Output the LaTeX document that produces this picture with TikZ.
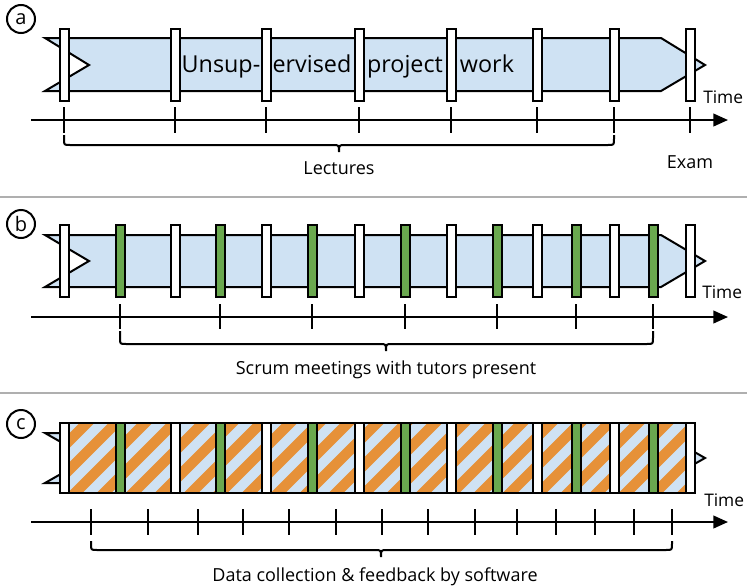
\documentclass[tikz,border=0pt]{standalone}
\usepackage{fontspec}
\setmainfont{Open Sans}
\usetikzlibrary{arrows.meta}
\definecolor{bandblue}{RGB}{207,226,243}
\definecolor{bargreen}{RGB}{106,168,79}
\definecolor{stripeor}{RGB}{230,145,56}
\definecolor{sepgray}{RGB}{175,175,175}
\tikzset{
  band/.style={draw=black, fill=bandblue, line width=1.5pt, line join=miter},
  wbar/.style={draw=black, fill=white, line width=1.5pt},
  gbar/.style={draw=black, fill=bargreen, line width=1.5pt},
  axis/.style={line width=1.5pt, -{Triangle[length=11pt, width=9.5pt]}},
  tickmark/.style={line width=1.5pt},
  bracepath/.style={line width=1.5pt},
  sep/.style={draw=sepgray, line width=2.2pt},
  lbl/.style={font=\fontsize{13.5}{16}\selectfont, inner sep=0pt, anchor=base},
  bandtext/.style={font=\fontsize{17.5}{20}\selectfont, inner sep=0pt, anchor=base},
  timelbl/.style={font=\fontsize{13}{15}\selectfont, inner sep=0pt, anchor=base west},
  panel/.style={circle, draw=black, line width=1.5pt, minimum size=28*0.75pt, inner sep=0pt, font=\fontsize{15}{17}\selectfont},
}
\begin{document}
\begin{tikzpicture}[x=0.75pt, y=-0.75pt]
\useasboundingbox (0,0) rectangle (747,586);
\fill[white] (0,0) rectangle (747,586);

% separators
\draw[sep] (0,197) -- (747,197);
\draw[sep] (0,393) -- (747,393);

% panel labels
\node[panel] (pa) at (21,19) {a};
\node[panel] (pb) at (21,224) {b};
\node[panel] (pc) at (21,424) {c};

% ---------------- Panel a ----------------
\draw[band] (45,38) -- (661,38) -- (705,65) -- (661,91) -- (45,91) -- (89,65) -- cycle;
\foreach \x in {64,175,266,359,451,537,614,690}
  \draw[wbar] (\x-4.5,29) rectangle (\x+4.5,101);
\node[bandtext] (t1) at (221,72.5) {Unsup-};
\node[bandtext] (t2) at (312,72.5) {ervised};
\node[bandtext] (t3) at (405,72.5) {project};
\node[bandtext] (t4) at (487,72.5) {work};
\node[timelbl] (timea) at (703,103) {Time};
\coordinate (axa0) at (31,120);
\coordinate (axa1) at (728,120);
\draw[axis] (axa0) -- (axa1);
\foreach \x in {64,175,266,359,451,537,614,690}
  \draw[tickmark] (\x,107) -- (\x,133);
\draw[bracepath] (64,135) -- (64,139) .. controls (64,145) .. (70,145) -- (333,145)
  .. controls (339,145) .. (339,152) .. controls (339,145) .. (345,145) -- (608,145)
  .. controls (614,145) .. (614,139) -- (614,135);
\node[lbl] (lect) at (339,174) {Lectures};
\node[lbl] (exam) at (690,168) {Exam};

% ---------------- Panel b ----------------
\draw[band] (45,235) -- (661,235) -- (705,261) -- (661,287) -- (45,287) -- (89,261) -- cycle;
\foreach \x in {64,175,266,359,451,537,614,690}
  \draw[wbar] (\x-4.5,225) rectangle (\x+4.5,297);
\foreach \x in {120,220,312,405,497,576,653}
  \draw[gbar] (\x-4.5,225) rectangle (\x+4.5,297);
\node[timelbl] (timeb) at (702,298) {Time};
\coordinate (axb0) at (31,317);
\coordinate (axb1) at (728,317);
\draw[axis] (axb0) -- (axb1);
\foreach \x in {120,220,312,405,497,576,653}
  \draw[tickmark] (\x,304) -- (\x,329);
\draw[bracepath] (120,331) -- (120,338) .. controls (120,344) .. (126,344) -- (380,344)
  .. controls (386,344) .. (386,351) .. controls (386,344) .. (392,344) -- (647,344)
  .. controls (653,344) .. (653,338) -- (653,331);
\node[lbl] (scrum) at (386,374) {Scrum meetings with tutors present};

% ---------------- Panel c ----------------
\draw[band] (45,433) -- (661,433) -- (705,458) -- (661,483) -- (45,483) -- (89,458) -- cycle;
\begin{scope}
  \clip (60,423) rectangle (695,493);
  \fill[bandblue] (60,423) rectangle (695,493);
  \foreach \s in {-80,-51,...,720}
    \draw[stripeor, line width=7.8pt] (\s,503) -- (\s+90,413);
\end{scope}
\draw[line width=1.5pt] (60,423) rectangle (695,493);
\foreach \x in {64,175,266,359,451,537,614}
  \draw[wbar] (\x-4.5,423) rectangle (\x+4.5,493);
\draw[wbar] (686,423) rectangle (695,493);
\foreach \x in {120,220,312,405,497,576,653}
  \draw[gbar] (\x-4.5,423) rectangle (\x+4.5,493);
\node[timelbl] (timec) at (704,506) {Time};
\coordinate (axc0) at (31,522);
\coordinate (axc1) at (728,522);
\draw[axis] (axc0) -- (axc1);
\foreach \x in {91,147.5,197.5,243,289,335.5,382,428,475,517,556,595,633.5,672}
  \draw[tickmark] (\x,509) -- (\x,535);
\draw[bracepath] (91,541) -- (91,544) .. controls (91,550) .. (97,550) -- (375,550)
  .. controls (381,550) .. (381,557) .. controls (381,550) .. (387,550) -- (666,550)
  .. controls (672,550) .. (672,544) -- (672,541);
\node[lbl] (datac) at (375,581) {Data collection \& feedback by software};
\end{tikzpicture}
\end{document}
